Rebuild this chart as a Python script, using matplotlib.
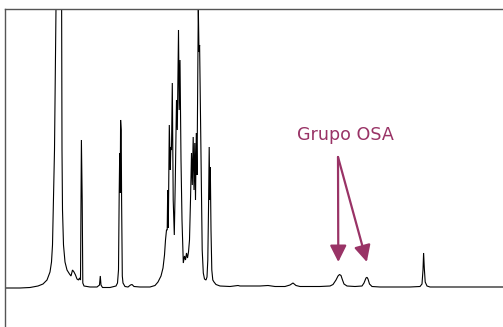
import matplotlib
matplotlib.use("Agg")
import matplotlib.pyplot as plt

# Spectrum trace: shift position (arbitrary units) and intensity
shift = [5, 20, 30, 38, 43, 47, 50, 51.5, 52.5, 53.5, 54.5, 55.5, 56.5, 61.5, 62, 62.5, 63.5, 65, 67,
         69.5, 71, 72.5, 74, 75.5, 77, 78.5, 79.5, 80.5, 81.4, 82.2, 82.8, 84, 90, 97, 99.5, 100.3,
         101, 102.5, 110, 116, 117.5, 118.5, 119.2, 119.7, 120.2, 120.6, 121.2, 121.6, 122.3, 123,
         125, 128, 130.5, 132, 134, 140, 150, 155, 158, 161, 163, 164.5, 165.5, 166.5, 167.2, 167.7,
         168.3, 169.3, 170.3, 170.8, 171.5, 172.3, 173.2, 174.3, 175.3, 176.5, 177.3, 178.5, 179.2,
         180, 181, 182, 183.3, 184.5, 185.5, 186.5, 187.5, 188.5, 189.5, 190.5, 191.5, 192.3, 193.2,
         194, 194.8, 195.5, 196.3, 197, 197.6, 198.3, 199, 199.6, 200.4, 201.2, 202.2, 203.3, 204.5,
         206, 207, 207.8, 208.5, 209.2, 209.8, 210.3, 211, 211.8, 212.8, 214, 216, 220, 230, 238, 240,
         250, 260, 268, 275, 285, 290, 293, 296, 300, 320, 330, 333, 336, 338, 339.5, 341, 342.5, 344,
         347, 355, 362, 364, 366, 367, 368, 369.5, 372, 380, 410, 420, 422, 423, 423.6, 424.3, 425.2,
         427, 430, 460, 503]
intensity = [-1, -1, -0.5, 1, 3, 7, 15, 25, 42, 87, 137, 227, 330, 330, 137, 77, 42, 25, 17,
             13, 11, 17, 15, 12, 8, 7, 9, 7, 147, 87, 4, 1, 0, 0, 2, 11,
             2, -0.5, -0.5, 1, 4, 17, 94, 134, 94, 167, 157, 87, 11, 4,
             0.5, 0, 2, 2.5, 0.5, 0, 0, 1.5, 5, 11, 19, 32, 47, 57, 57, 97,
             59, 162, 117, 140, 137, 204, 87, 52, 107, 187, 157, 257, 177,
             227, 127, 67, 24, 31, 27, 34, 29, 35, 47, 87, 134, 102, 150,
             97, 144, 87, 154, 112, 187, 280, 235, 242, 177, 107, 37, 14, 8,
             7, 10, 27, 77, 140, 87, 120, 57, 17, 7, 5, 2.5, 1, 0.5, 1.5, 1,
             1, 1, 1.5, 0.5, 0.5, 2, 4, 1.5, 0.5, 0.5, 1, 2.5, 7, 11, 12.5, 11.5, 7, 3,
             1, 0.5, 1, 4, 9, 9.7, 8, 3, 0.5, 0, 0, 0.5, 3, 17, 34, 19, 5,
             1, 0, 0, 0]

label_text = "Grupo OSA"
label_pos = (297, 147)
arrow_start = (338, 130)
arrow_targets = [(338.3, 25), (366.8, 25)]
accent = "#993366"

fig = plt.figure(figsize=(5.03, 3.27), dpi=100)
ax = fig.add_axes([5 / 503, 0, 498 / 503, 318 / 327])
ax.plot(shift, intensity, color="black", lw=0.8, solid_joinstyle="miter")
ax.set_xlim(5, 503)
ax.set_ylim(-40, 278)
ax.set_xticks([])
ax.set_yticks([])
for s in ("right", "bottom"):
    ax.spines[s].set_visible(False)
for s in ("left", "top"):
    ax.spines[s].set_color("#555555")
    ax.spines[s].set_linewidth(1.0)

ax.text(label_pos[0], label_pos[1], label_text, color=accent, fontsize=12.6,
        family="DejaVu Sans", va="baseline", ha="left")
for tgt in arrow_targets:
    ax.annotate("", xy=tgt, xytext=arrow_start,
                arrowprops=dict(arrowstyle="-|>,head_length=0.5,head_width=0.25",
                                mutation_scale=20, color=accent, lw=1.6,
                                shrinkA=0, shrinkB=0))

fig.savefig("out.png", dpi=100)
